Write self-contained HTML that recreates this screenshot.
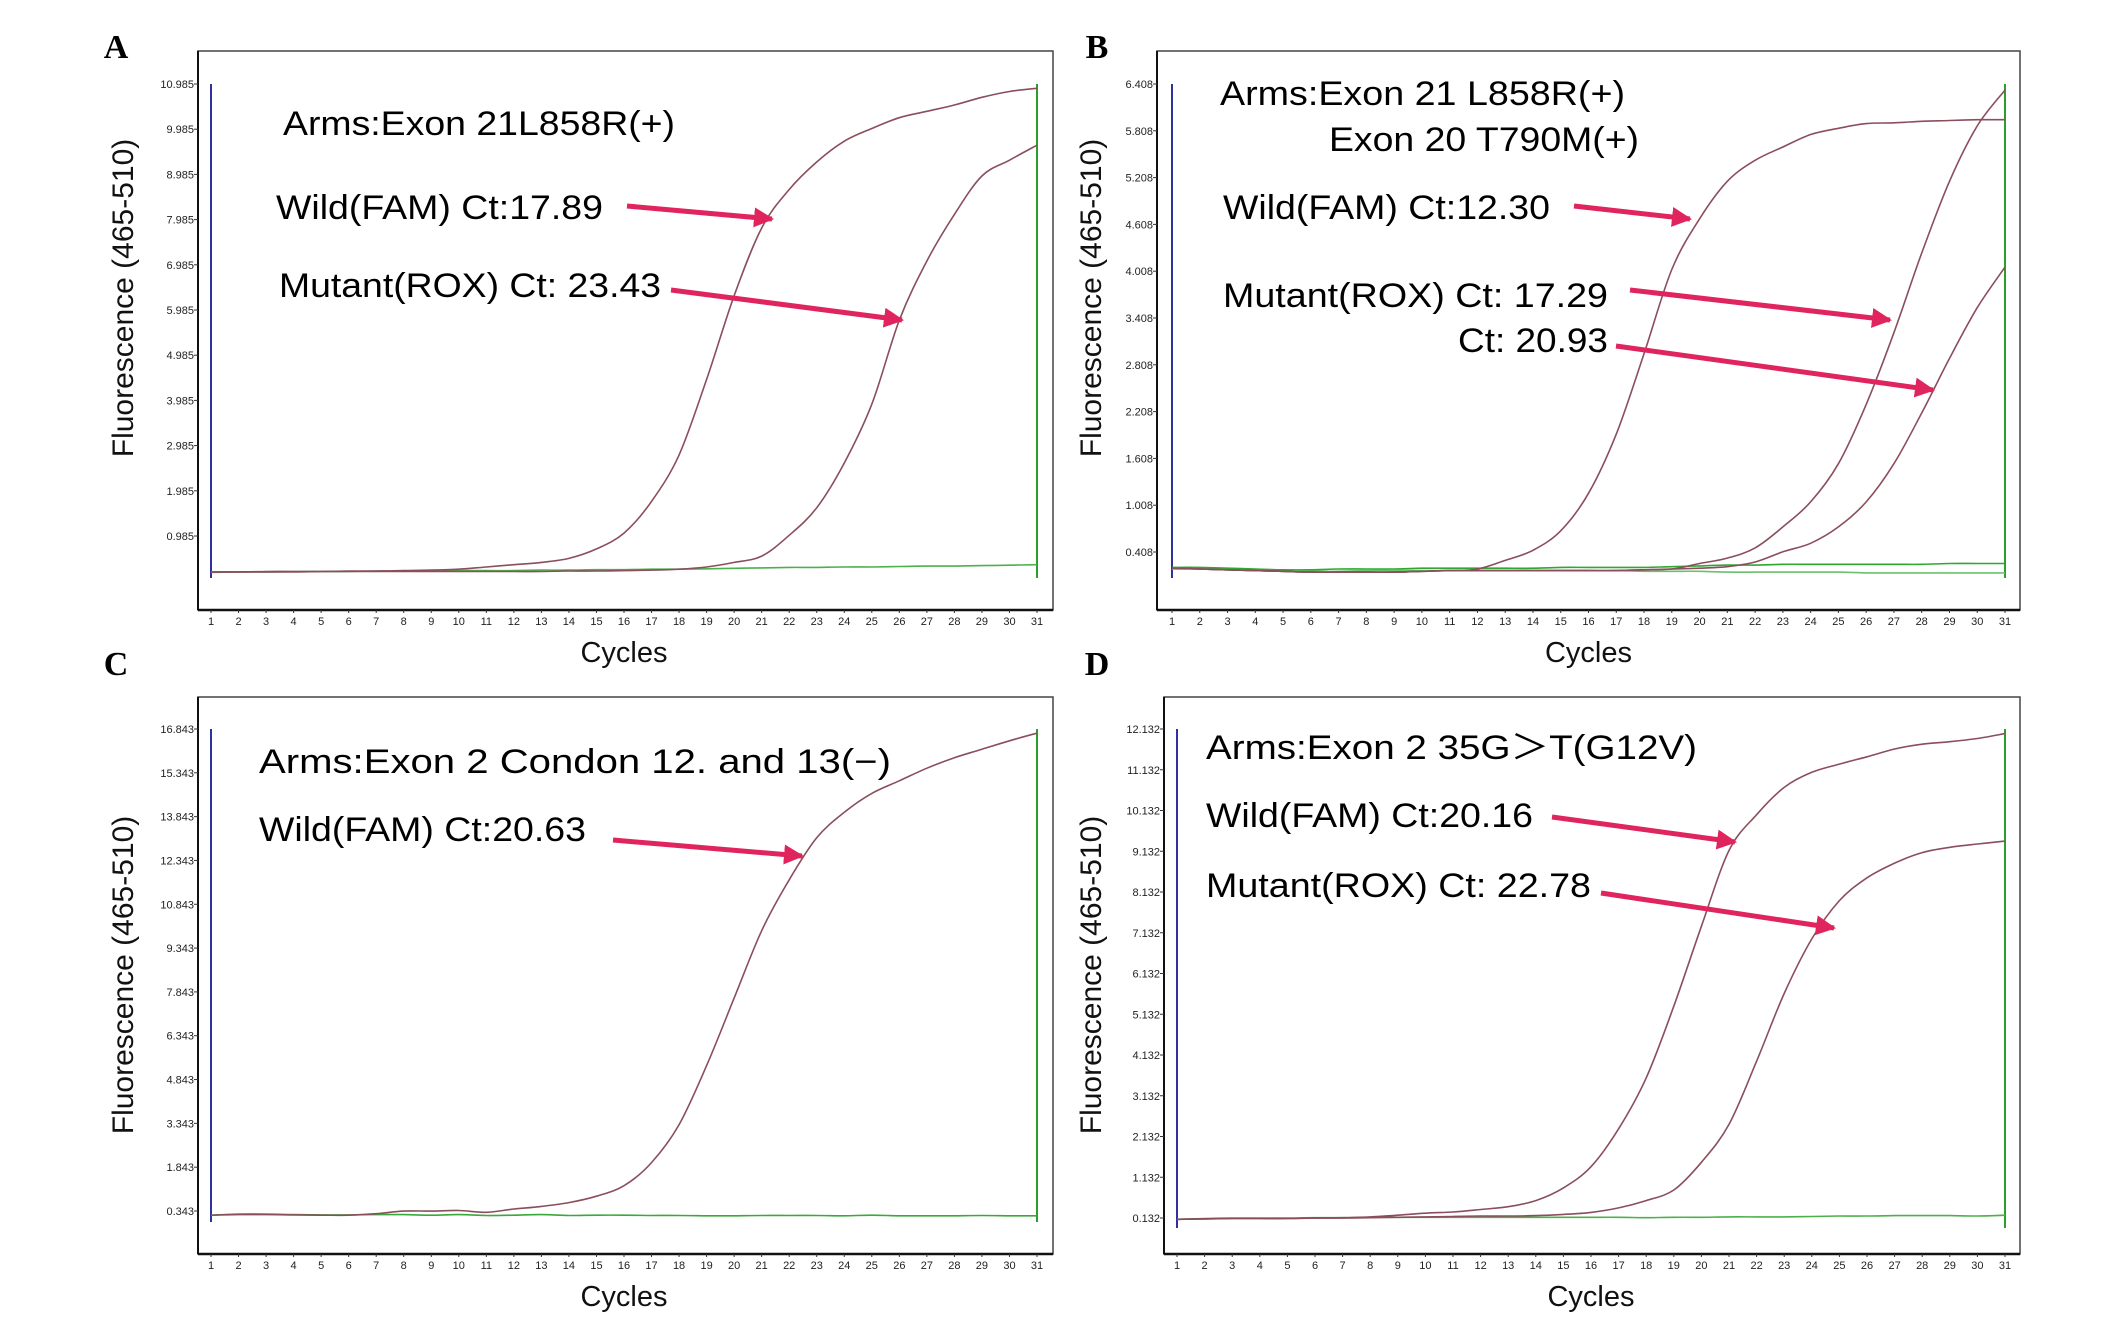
<!DOCTYPE html>
<html><head><meta charset="utf-8"><style>
html,body{margin:0;padding:0;background:#fff;}
svg{display:block;font-family:"Liberation Sans",Arial,sans-serif;}
</style></head><body>
<svg id="fig" width="2126" height="1322" viewBox="0 0 2126 1322" xmlns="http://www.w3.org/2000/svg">
<defs>
<marker id="ah" viewBox="0 0 10 10" refX="9" refY="5" markerWidth="4" markerHeight="4" orient="auto" markerUnits="strokeWidth"><path d="M0,0 L10,5 L0,10 z" fill="#e0245e"/></marker>
</defs>
</svg>
<script>
// ---- data ----
const cycles = [1,2,3,4,5,6,7,8,9,10,11,12,13,14,15,16,17,18,19,20,21,22,23,24,25,26,27,28,29,30,31];
const aTicks = ["0.985","1.985","2.985","3.985","4.985","5.985","6.985","7.985","8.985","9.985","10.985"];
const bTicks = ["0.408","1.008","1.608","2.208","2.808","3.408","4.008","4.608","5.208","5.808","6.408"];
const cTicks = ["0.343","1.843","3.343","4.843","6.343","7.843","9.343","10.843","12.343","13.843","15.343","16.843"];
const dTicks = ["0.132","1.132","2.132","3.132","4.132","5.132","6.132","7.132","8.132","9.132","10.132","11.132","12.132"];
const aWild   = [0.19,0.19,0.2,0.2,0.2,0.21,0.21,0.22,0.23,0.25,0.3,0.35,0.4,0.49,0.7,1.05,1.75,2.78,4.45,6.3,7.8,8.65,9.26,9.72,10.0,10.24,10.38,10.52,10.69,10.82,10.89];
const aMutant = [0.19,0.19,0.19,0.19,0.2,0.2,0.2,0.2,0.2,0.2,0.2,0.2,0.2,0.21,0.21,0.22,0.23,0.25,0.3,0.4,0.54,1.0,1.61,2.6,3.9,5.76,7.07,8.1,8.95,9.3,9.63];
const aGreen  = [0.18,0.19,0.19,0.2,0.2,0.2,0.21,0.21,0.21,0.22,0.22,0.22,0.23,0.23,0.24,0.24,0.25,0.25,0.26,0.27,0.28,0.29,0.29,0.3,0.3,0.31,0.32,0.32,0.33,0.34,0.35];
const bWild   = [0.2,0.19,0.18,0.17,0.16,0.15,0.15,0.15,0.15,0.16,0.17,0.19,0.3,0.43,0.68,1.16,1.92,2.95,4.03,4.68,5.16,5.43,5.6,5.76,5.84,5.9,5.91,5.93,5.94,5.95,5.95];
const bMut1   = [0.2,0.19,0.18,0.17,0.16,0.15,0.15,0.15,0.15,0.16,0.17,0.17,0.17,0.17,0.17,0.17,0.17,0.18,0.19,0.26,0.33,0.46,0.73,1.05,1.54,2.3,3.22,4.24,5.16,5.87,6.33];
const bMut2   = [0.2,0.19,0.18,0.17,0.16,0.15,0.15,0.15,0.15,0.16,0.17,0.17,0.17,0.17,0.17,0.17,0.17,0.18,0.19,0.2,0.22,0.28,0.41,0.52,0.73,1.05,1.54,2.19,2.89,3.54,4.06];
const bGreen1 = [0.21,0.21,0.2,0.19,0.18,0.18,0.19,0.19,0.19,0.2,0.2,0.2,0.2,0.2,0.21,0.21,0.21,0.21,0.22,0.23,0.24,0.24,0.25,0.25,0.25,0.25,0.25,0.25,0.26,0.26,0.26];
const bGreen2 = [0.19,0.19,0.18,0.17,0.16,0.16,0.16,0.17,0.17,0.17,0.17,0.17,0.17,0.17,0.17,0.17,0.17,0.16,0.16,0.16,0.15,0.15,0.15,0.15,0.15,0.14,0.14,0.14,0.14,0.14,0.14];
const cWild   = [0.2,0.22,0.22,0.21,0.2,0.2,0.25,0.34,0.34,0.36,0.3,0.41,0.5,0.63,0.85,1.21,2.0,3.3,5.32,7.63,9.94,11.68,13.12,13.99,14.64,15.07,15.5,15.86,16.15,16.44,16.7];
const cGreen  = [0.2,0.24,0.24,0.22,0.21,0.21,0.22,0.22,0.2,0.22,0.19,0.2,0.22,0.19,0.2,0.2,0.19,0.19,0.18,0.18,0.19,0.19,0.19,0.18,0.2,0.18,0.18,0.18,0.19,0.18,0.18];
const dWild   = [0.1,0.11,0.12,0.12,0.12,0.13,0.14,0.16,0.2,0.25,0.28,0.34,0.41,0.56,0.87,1.39,2.32,3.57,5.33,7.29,9.15,10.03,10.7,11.07,11.27,11.45,11.64,11.76,11.82,11.9,12.02];
const dMutant = [0.1,0.11,0.12,0.12,0.12,0.13,0.13,0.14,0.15,0.16,0.17,0.18,0.18,0.19,0.22,0.27,0.38,0.56,0.82,1.5,2.43,3.98,5.64,6.98,7.92,8.48,8.84,9.1,9.23,9.31,9.38];
const dGreen  = [0.1,0.12,0.13,0.13,0.13,0.14,0.14,0.15,0.15,0.15,0.15,0.15,0.15,0.15,0.15,0.15,0.15,0.14,0.15,0.15,0.16,0.16,0.16,0.17,0.18,0.18,0.19,0.19,0.19,0.18,0.2];

// ---- layout ----
const NS="http://www.w3.org/2000/svg";
const svg=document.getElementById('fig');
function mk(tag,attrs,parent){const e=document.createElementNS(NS,tag);for(const k in attrs)e.setAttribute(k,attrs[k]);(parent||svg).appendChild(e);return e;}
function smooth(pts){
  let d='M'+pts[0][0].toFixed(1)+','+pts[0][1].toFixed(1);
  for(let i=0;i<pts.length-1;i++){
    const p0=pts[Math.max(0,i-1)],p1=pts[i],p2=pts[i+1],p3=pts[Math.min(pts.length-1,i+2)];
    const c1x=p1[0]+(p2[0]-p0[0])/6,c1y=p1[1]+(p2[1]-p0[1])/6;
    const c2x=p2[0]-(p3[0]-p1[0])/6,c2y=p2[1]-(p3[1]-p1[1])/6;
    d+=' C'+c1x.toFixed(1)+','+c1y.toFixed(1)+' '+c2x.toFixed(1)+','+c2y.toFixed(1)+' '+p2[0].toFixed(1)+','+p2[1].toFixed(1);
  }
  return d;
}

const panels=[
 {id:'a',letter:'A',lx:116,ly:58,box:[198,51,1053,610],x1:211,x31:1037,yb:536,yt:84,ticks:aTicks,vb:0.985,vt:10.985,lineTop:84,lineBot:578,ytx:123,yty:298,
  series:[{v:aGreen,c:'#4cb04c',n:'green-baseline'},{v:aMutant,c:'#8a4e5c',n:'mutant-rox-curve'},{v:aWild,c:'#8a4e5c',n:'wild-fam-curve'}],
  texts:[["Arms:Exon  21L858R(+)",283,135,392],["Wild(FAM) Ct:17.89",276,219,327],["Mutant(ROX)  Ct: 23.43",279,297,382]],
  arrows:[[627,206,772,219],[671,290,902,320]]},
 {id:'b',letter:'B',lx:1097,ly:58,box:[1157,51,2020,610],x1:1172,x31:2005,yb:552,yt:84,ticks:bTicks,vb:0.408,vt:6.408,lineTop:84,lineBot:578,ytx:1091,yty:298,
  series:[{v:bGreen1,c:'#2fa82f',n:'green-baseline-1'},{v:bGreen2,c:'#6cc06c',n:'green-baseline-2'},{v:bMut2,c:'#8a4e5c',n:'mutant-rox-curve-2'},{v:bMut1,c:'#8a4e5c',n:'mutant-rox-curve-1'},{v:bWild,c:'#8a4e5c',n:'wild-fam-curve'}],
  texts:[["Arms:Exon  21 L858R(+)",1220,105,405],["Exon  20 T790M(+)",1329,151,310],["Wild(FAM) Ct:12.30",1223,219,327],["Mutant(ROX)  Ct: 17.29",1223,307,385],["Ct: 20.93",1458,352,150]],
  arrows:[[1574,206,1690,219],[1630,290,1890,320],[1616,346,1933,390]]},
 {id:'c',letter:'C',lx:116,ly:675,box:[198,697,1053,1254],x1:211,x31:1037,yb:1211,yt:729,ticks:cTicks,vb:0.343,vt:16.843,lineTop:729,lineBot:1222,ytx:123,yty:975,
  series:[{v:cGreen,c:'#3aa83a',n:'green-baseline'},{v:cWild,c:'#8a4e5c',n:'wild-fam-curve'}],
  texts:[["Arms:Exon  2  Condon  12.  and  13(\u2212)",259,773,632],["Wild(FAM) Ct:20.63",259,841,327]],
  arrows:[[613,840,802,856]]},
 {id:'d',letter:'D',lx:1097,ly:675,box:[1164,697,2020,1254],x1:1177,x31:2005,yb:1218,yt:729,ticks:dTicks,vb:0.132,vt:12.132,lineTop:729,lineBot:1228,ytx:1091,yty:975,
  series:[{v:dGreen,c:'#4cb04c',n:'green-baseline'},{v:dMutant,c:'#8a4e5c',n:'mutant-rox-curve'},{v:dWild,c:'#8a4e5c',n:'wild-fam-curve'}],
  texts:[["Arms:Exon  2  35G\uFF1ET(G12V)",1206,759,491],["Wild(FAM) Ct:20.16",1206,827,327],["Mutant(ROX)  Ct: 22.78",1206,897,385]],
  arrows:[[1552,817,1735,842],[1601,893,1834,928]]}
];

panels.forEach(p=>{
  const g=mk('g',{});
  
  
  const X=c=>p.x1+(c-1)*(p.x31-p.x1)/30;
  const Y=v=>p.yb-(v-p.vb)*(p.yb-p.yt)/(p.vt-p.vb);
  const [x0,y0,x2,y2]=p.box;
  const lt=mk('text',{x:p.lx,y:p.ly,'font-family':'Liberation Serif,serif','font-weight':'bold','font-size':34,'text-anchor':'middle',fill:'#000'},g);
  lt.textContent=p.letter;
  
  
  const r=mk('rect',{x:x0,y:y0,width:x2-x0,height:y2-y0,fill:'#fff',stroke:'#444','stroke-width':1.5},g);
  
  
  mk('line',{x1:x0,y1:y2,x2:x2,y2:y2,stroke:'#111','stroke-width':2.5},g);
  mk('line',{x1:x0,y1:y0,x2:x0,y2:y2,stroke:'#111','stroke-width':2},g);
  p.ticks.forEach(t=>{
    const y=Y(parseFloat(t));
    mk('line',{x1:x0-4,y1:y,x2:x0,y2:y,stroke:'#333','stroke-width':1},g);
    const tx=mk('text',{x:x0-4,y:y+4,'font-size':11,'text-anchor':'end',fill:'#222'},g);
    tx.textContent=t;
    
    
  });
  cycles.forEach(c=>{
    const x=X(c);
    mk('line',{x1:x,y1:y2,x2:x,y2:y2+3,stroke:'#333','stroke-width':1},g);
    const tx=mk('text',{x:x,y:y2+15,'font-size':11,'text-anchor':'middle',fill:'#222'},g);
    tx.textContent=c;
    
    
  });
  const xt=mk('text',{x:(p.x1+p.x31)/2,y:y2+52,'font-size':29,'text-anchor':'middle',fill:'#111'},g);
  xt.textContent='Cycles';
  
  
  const yt=mk('text',{x:0,y:0,'font-size':30,'text-anchor':'middle',fill:'#111',transform:`translate(${p.ytx+10},${p.yty}) rotate(-90)`},g);
  yt.textContent='Fluorescence (465-510)';
  
  
  const bl=mk('line',{x1:p.x1,y1:p.lineTop,x2:p.x1,y2:p.lineBot,stroke:'#3030a0','stroke-width':2},g);
  
  
  const gl=mk('line',{x1:p.x31,y1:p.lineTop,x2:p.x31,y2:p.lineBot,stroke:'#2aa02a','stroke-width':2},g);
  
  
  p.series.forEach(s=>{
    const pts=s.v.map((v,i)=>[X(cycles[i]),Y(v)]);
    const path=mk('path',{d:smooth(pts),fill:'none',stroke:s.c,'stroke-width':1.6},g);
    
    
  });
  p.texts.forEach(t=>{
    const tx=mk('text',{x:t[1],y:t[2],'font-size':34,fill:'#000',textLength:t[3],lengthAdjust:'spacingAndGlyphs'},g);
    tx.textContent=t[0];
    
    
  });
  p.arrows.forEach(a=>{
    const ar=mk('line',{x1:a[0],y1:a[1],x2:a[2],y2:a[3],stroke:'#e0245e','stroke-width':5,'marker-end':'url(#ah)'},g);
    
    
  });
});
</script>
</body></html>
